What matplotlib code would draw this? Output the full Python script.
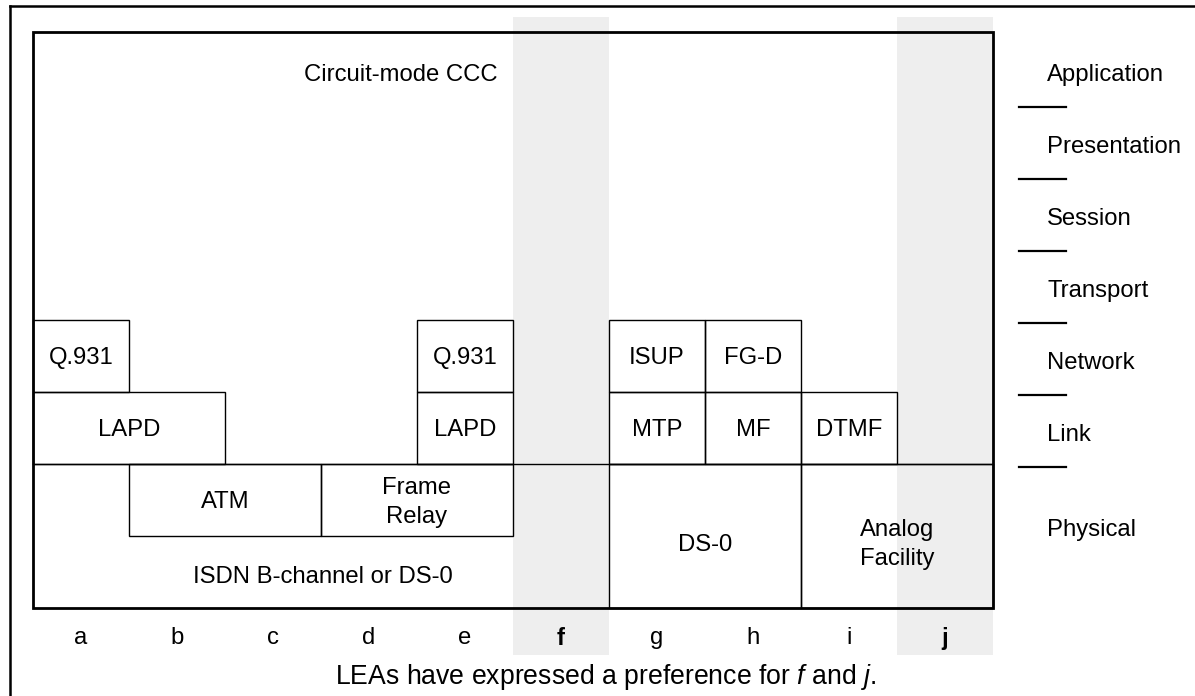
import matplotlib.pyplot as plt
from matplotlib.patches import Rectangle

plt.rcParams['font.family'] = ['Liberation Sans', 'DejaVu Sans']
plt.rcParams['mathtext.fontset'] = 'custom'
plt.rcParams['mathtext.rm'] = 'Liberation Sans'
plt.rcParams['mathtext.it'] = 'Liberation Sans:italic'

# columns (options a..j) and OSI layers
columns = ['a', 'b', 'c', 'd', 'e', 'f', 'g', 'h', 'i', 'j']
preferred = ['f', 'j']
layers = ['Application', 'Presentation', 'Session', 'Transport',
          'Network', 'Link', 'Physical']
layer_rows = [1, 1, 1, 1, 1, 1, 2]

# protocol blocks: label, first column, first layer row, columns spanned, rows spanned
block_names = ['Q.931', 'LAPD', 'ATM', 'Frame\nRelay', 'Q.931', 'LAPD',
               'ISUP', 'FG-D', 'MTP', 'MF', 'DTMF', 'DS-0', 'Analog\nFacility']
block_col = [0, 0, 1, 3, 4, 4, 6, 7, 6, 7, 8, 6, 8]
block_row = [4, 5, 6, 6, 4, 5, 4, 4, 5, 5, 5, 6, 6]
block_ncol = [1, 2, 2, 2, 1, 1, 1, 1, 1, 1, 1, 2, 2]
block_nrow = [1, 1, 1, 1, 1, 1, 1, 1, 1, 1, 1, 2, 2]

top_label = 'Circuit-mode CCC'
bottom_label = 'ISDN B-channel or DS-0'
caption = r'LEAs have expressed a preference for $\mathit{f}$ and $\mathit{j}$.'

FS = 17.2
fig = plt.figure(figsize=(11.95, 6.96), dpi=100)
ax = fig.add_axes([0, 0, 1, 1])
# 1 column = 96 px, 1 layer = 72 px, origin at the inner box corner
ax.set_xlim(-33 / 96, (1195 - 33) / 96)
ax.set_ylim((696 - 32) / 72, -32 / 72)
ax.axis('off')

ncols = len(columns)
nrows = sum(layer_rows)

# outer frame (only top and left edges are inside the picture)
ax.plot([-23 / 96, 20], [-26 / 72, -26 / 72], color='black', lw=1.8, zorder=3)
ax.plot([-23 / 96, -23 / 96], [-26 / 72, 20], color='black', lw=1.8, zorder=3)

# shaded preferred columns
for c in preferred:
    i = columns.index(c)
    ax.add_patch(Rectangle((i, -15 / 72), 1, nrows + 0.65 + 15 / 72,
                           facecolor='#eeeeee', edgecolor='none', zorder=0))

# inner box
ax.add_patch(Rectangle((0, 0), ncols, nrows, fill=False, edgecolor='black',
                       lw=2.0, zorder=4))

# physical layer boundary
phys_top = sum(layer_rows[:-1])
ax.plot([0, ncols], [phys_top, phys_top], color='black', lw=1.0, zorder=3)

for name, c, r, w, h in zip(block_names, block_col, block_row, block_ncol, block_nrow):
    ax.add_patch(Rectangle((c, r), w, h, fill=False, edgecolor='black',
                           lw=1.0, zorder=3))
    ty = r + h / 2 + (0.12 if h > 1 else 0.03)
    ax.text(c + w / 2, ty, name, ha='center', va='center', fontsize=FS,
            linespacing=1.42, zorder=5)

ax.text(3.83, 0.6, top_label, ha='center', va='center', fontsize=FS)
ax.text(3.02, 7.57, bottom_label, ha='center', va='center', fontsize=FS)

# OSI layer labels on the right
y0 = 0
for i, (lay, h) in enumerate(zip(layers, layer_rows)):
    ly = y0 + h / 2 + (0.1 if h == 1 else -0.08)
    ax.text(1047 / 96 - 33 / 96, ly, lay, ha='left', va='center', fontsize=FS)
    y0 += h
    if i < len(layers) - 1:
        ax.plot([(1019 - 33) / 96, (1066 - 33) / 96], [y0 + 0.04, y0 + 0.04],
                color='black', lw=1.6)

# column letters
for i, c in enumerate(columns):
    ax.text(i + 0.5, nrows + 0.42, c, ha='center', va='center', fontsize=FS,
            fontweight='bold' if c in preferred else 'normal')

ax.text((606 - 33) / 96, nrows + 0.96, caption, ha='center', va='center',
        fontsize=19.2)

fig.savefig('out.png', dpi=100)
